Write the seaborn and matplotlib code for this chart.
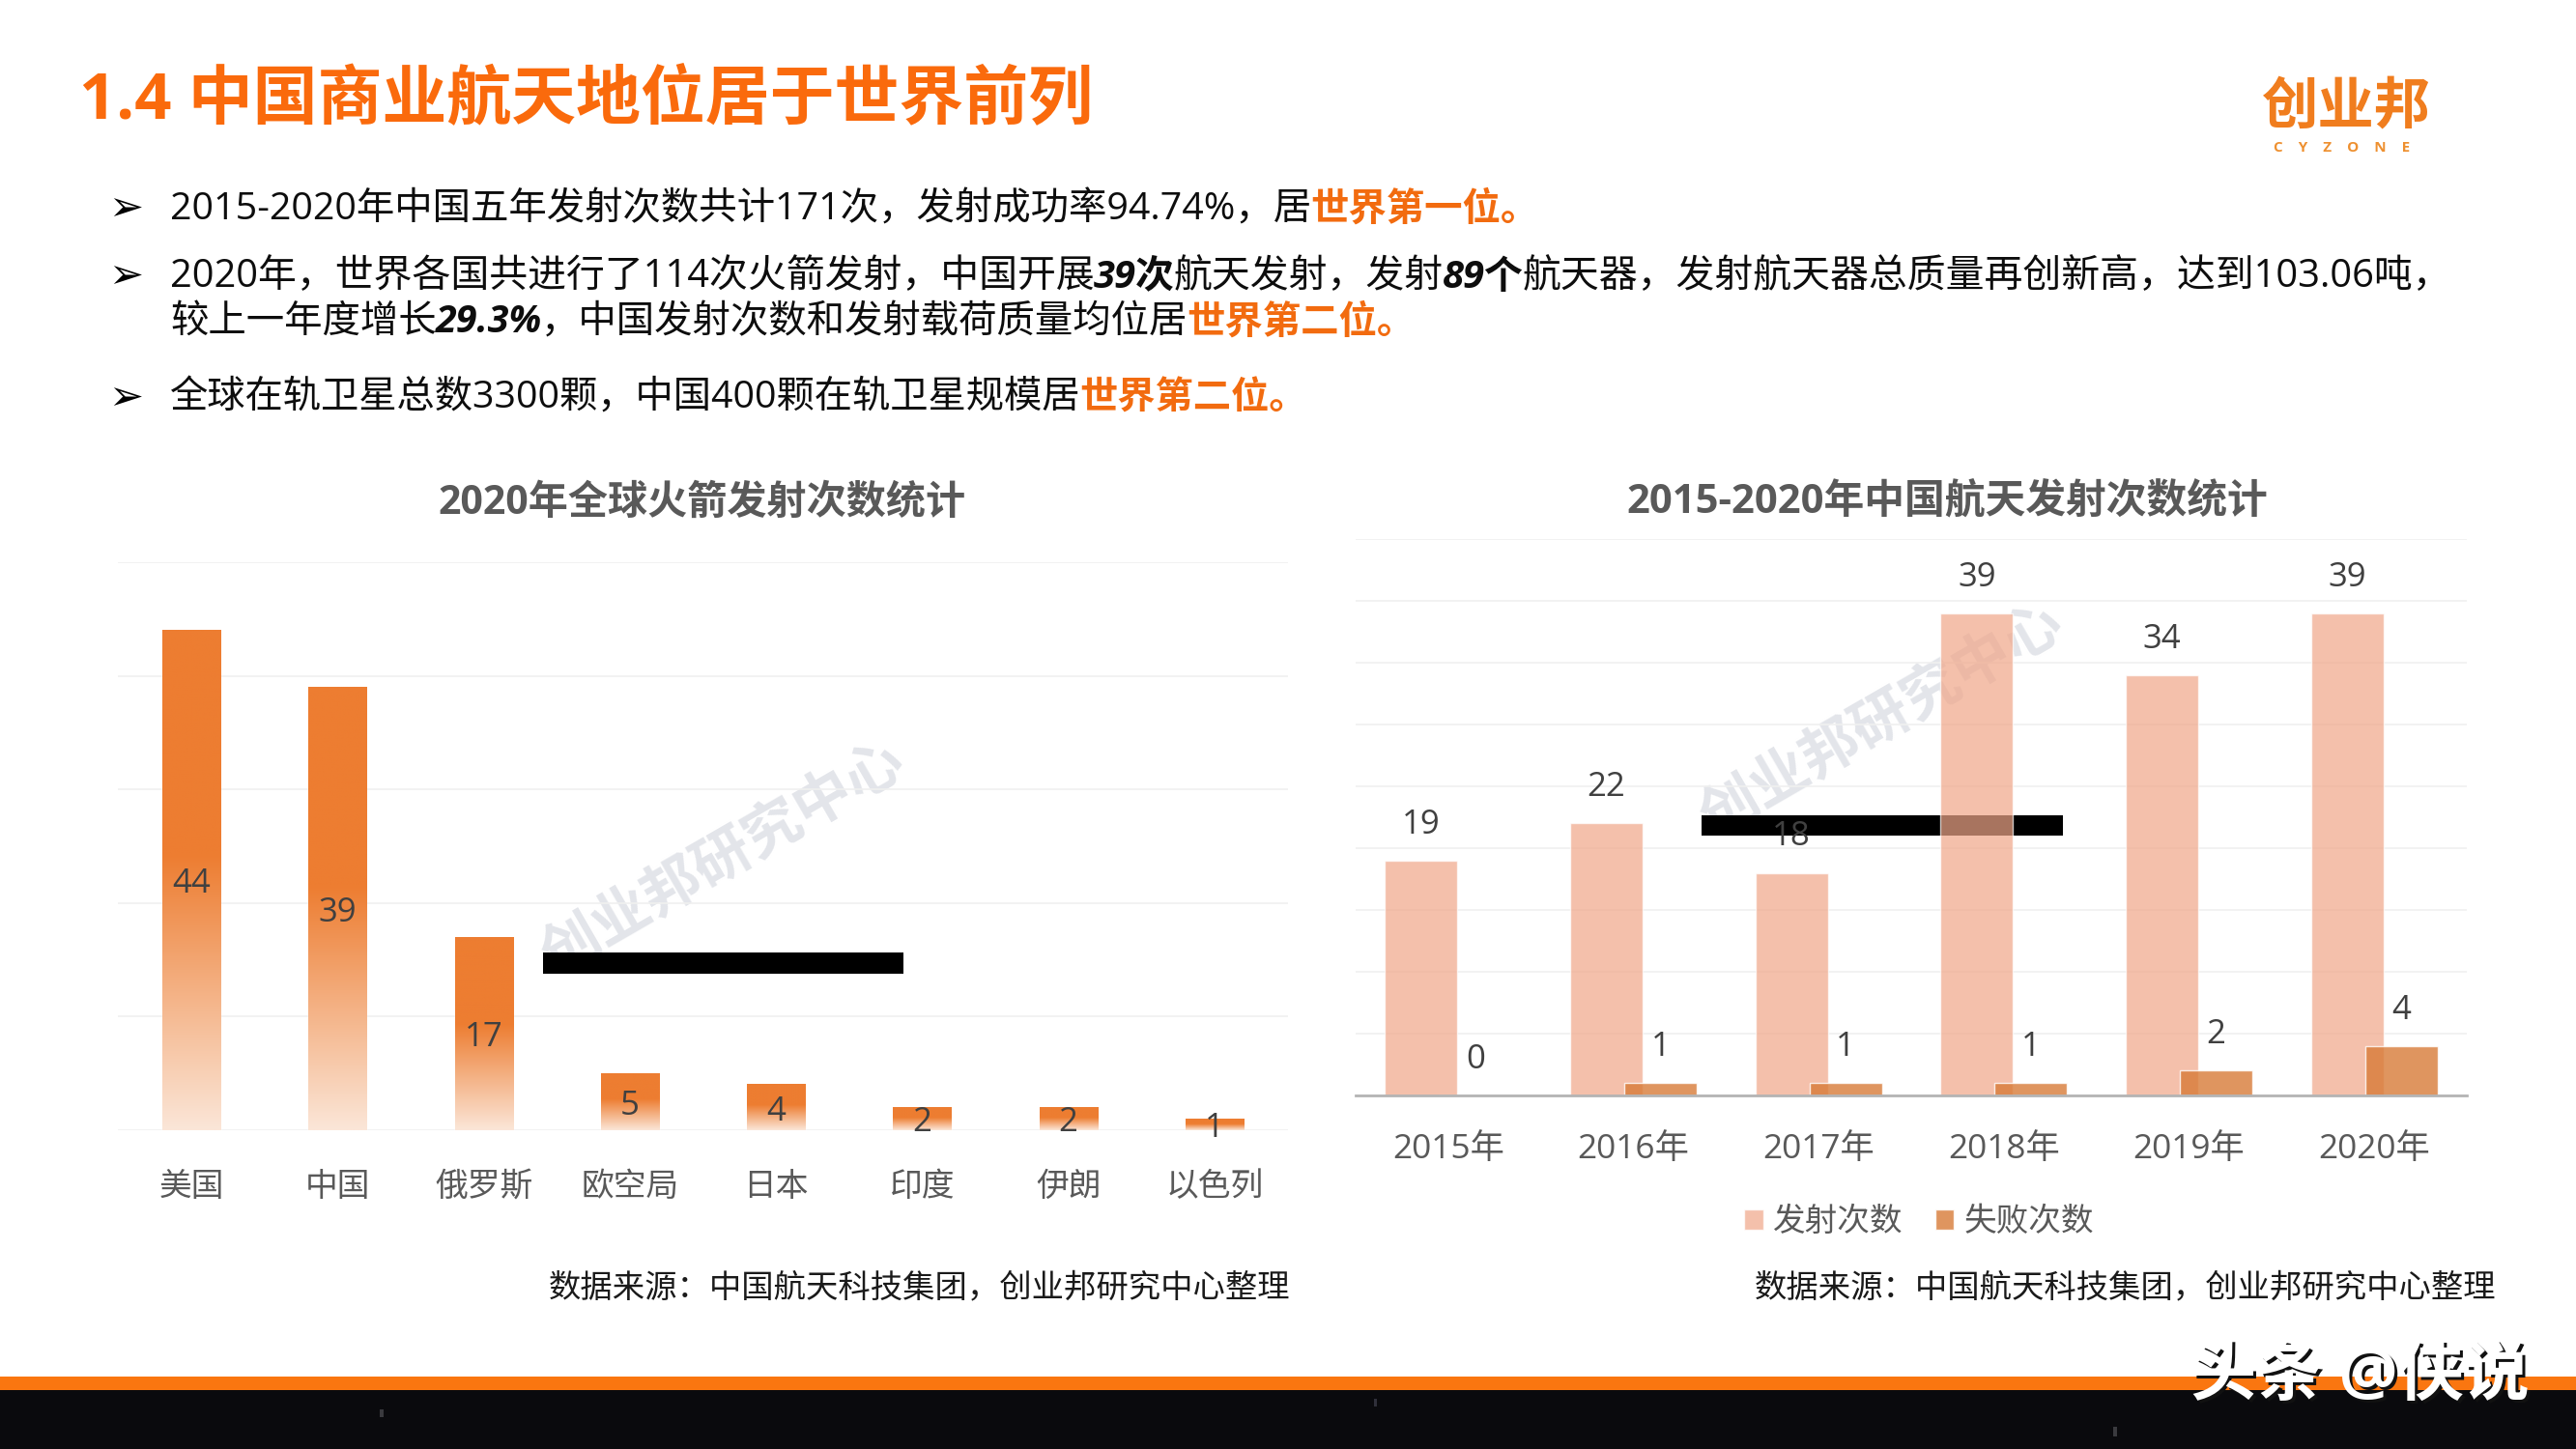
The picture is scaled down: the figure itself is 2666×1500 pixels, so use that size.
import numpy as np
import pandas as pd
import matplotlib
matplotlib.use("Agg")
import matplotlib.pyplot as plt
import seaborn as sns
from matplotlib.patches import Rectangle

# ---- data ----
countries = ["美国", "中国", "俄罗斯", "欧空局", "日本", "印度", "伊朗", "以色列"]
country_launches = [44, 39, 17, 5, 4, 2, 2, 1]
years = ["2015年", "2016年", "2017年", "2018年", "2019年", "2020年"]
launches = [19, 22, 18, 39, 34, 39]
failures = [0, 1, 1, 1, 2, 4]
series_names = ["发射次数", "失败次数"]

title = "1.4 中国商业航天地位居于世界前列"
left_title = "2020年全球火箭发射次数统计"
right_title = "2015-2020年中国航天发射次数统计"
source = "数据来源：中国航天科技集团，创业邦研究中心整理"
watermark = "创业邦研究中心"

BLK, ORG, ITA = "n", "o", "i"
bullets = [
    (217, True, 28.4, [(BLK, "2015-2020年中国五年发射次数共计171次，发射成功率94.74%，居"), (ORG, "世界第一位。")]),
    (287, True, 28.7, [(BLK, "2020年，世界各国共进行了114次火箭发射，中国开展"), (ITA, "39次"), (BLK, "航天发射，发射"),
                       (ITA, "89个"), (BLK, "航天器，发射航天器总质量再创新高，达到103.06吨，")]),
    (334, False, 28.4, [(BLK, "较上一年度增长"), (ITA, "29.3%"), (BLK, "，中国发射次数和发射载荷质量均位居"), (ORG, "世界第二位。")]),
    (413, True, 28.3, [(BLK, "全球在轨卫星总数3300颗，中国400颗在轨卫星规模居"), (ORG, "世界第二位。")]),
]

# ---- style ----
sns.set_theme(style="white")
FONT = ["Open Sans", "Noto Sans CJK SC", "DejaVu Sans"]
plt.rcParams["font.family"] = FONT

W, H = 2666, 1500
fig = plt.figure(figsize=(W / 100, H / 100), dpi=100, facecolor="white")


def fx(x):
    return x / W


def fy(y):
    return 1 - y / H


def ptext(x, y, s, **kw):
    kw.setdefault("va", "center")
    kw.setdefault("ha", "left")
    return fig.text(fx(x), fy(y), s, **kw)


def axes_px(x0, x1, y0, y1):
    ax = fig.add_axes([fx(x0), fy(y1), (x1 - x0) / W, (y1 - y0) / H])
    ax.patch.set_alpha(0)
    return ax


def frect(x0, x1, y0, y1, color, z):
    fig.add_artist(Rectangle((fx(x0), fy(y1)), (x1 - x0) / W, (y1 - y0) / H,
                             transform=fig.transFigure, facecolor=color,
                             edgecolor="none", zorder=z))


# ---- header ----
ptext(82, 105, title, fontsize=48.2, fontweight="bold", color="#FA6A0C", zorder=5)
ptext(2429, 113, "创业邦", fontsize=42, fontweight="bold", color="#F07D1E", ha="center", zorder=5)
ptext(2424, 153, "C    Y    Z    O    N    E", fontsize=11, fontweight="bold", color="#EE9030", ha="center", zorder=5)

renderer = fig.canvas.get_renderer()
styles = {
    BLK: dict(color="#0D0D0D"),
    ORG: dict(color="#F26B0F", fontweight="bold"),
    ITA: dict(color="#0D0D0D", fontweight="bold", fontstyle="italic"),
}
for y, has_marker, size, runs in bullets:
    if has_marker:
        ptext(112, y - 1, "➢", fontsize=31, color="black", family=["DejaVu Sans"], zorder=5)
    x = 176
    for kind, s in runs:
        t = ptext(x, y, s, fontsize=size, zorder=5, **styles[kind])
        x += t.get_window_extent(renderer).width - 1

# ---- background decoration under the charts ----
ptext(750, 891, watermark, fontsize=43.5, fontweight="bold", color="#E3E5EA",
      rotation=30, ha="center", rotation_mode="anchor", zorder=-2)
ptext(1949, 748, watermark, fontsize=43.5, fontweight="bold", color="#E3E5EA",
      rotation=30, ha="center", rotation_mode="anchor", zorder=-2)
frect(562, 935, 986, 1008, "black", -1)
frect(1761, 2135, 844, 865, "black", -1)

# ---- left chart ----
ax1 = axes_px(122.5, 1332.5, 582, 1170)
df1 = pd.DataFrame({"country": countries, "count": country_launches})
sns.barplot(data=df1, x="country", y="count", ax=ax1, color="#ED7D31", saturation=1, width=0.397)
top_rgb = np.array(matplotlib.colors.to_rgb("#ED7D31"))
bot_rgb = np.array(matplotlib.colors.to_rgb("#FBE6D8"))
grad_pos = np.linspace(0, 1, 256)
grad_mix = np.clip((grad_pos - 0.45) / 0.55, 0, 1)[:, None]
grad_img = (top_rgb * (1 - grad_mix) + bot_rgb * grad_mix)[:, None, :]
for p in ax1.containers[0]:
    ax1.imshow(grad_img, aspect="auto", zorder=2.5,
               extent=(p.get_x(), p.get_x() + p.get_width(), 0, p.get_height()))
ax1.set_xlim(-0.5, len(countries) - 0.5)
ax1.set_ylim(0, 50)
ax1.set_yticks(range(0, 51, 10))
for t in ax1.bar_label(ax1.containers[0], label_type="center", fontsize=25, color="#404040"):
    t.set_zorder(4)
    t.xyann = (0, -3)
ax1.grid(axis="y", color="#F0F0F0", linewidth=1.2)
ax1.set_axisbelow(True)
ax1.set(xlabel="", ylabel="")
ax1.tick_params(axis="y", left=False, labelleft=False)
ax1.tick_params(axis="x", bottom=False, labelsize=24.3, labelcolor="#595959", pad=24)
sns.despine(ax=ax1, left=True, top=True, right=True, bottom=True)

# ---- right chart ----
ax2 = axes_px(1403, 2553, 558, 1134)
df2 = pd.DataFrame({
    "year": years * 2,
    "count": launches + failures,
    "series": [series_names[0]] * len(years) + [series_names[1]] * len(years),
})
sns.barplot(data=df2, x="year", y="count", hue="series", ax=ax2, legend=False, saturation=1,
            width=0.78, gap=0, palette=["#F0A688", "#D87B37"])
shift = 0.195 - 0.146
for cont, sign, alpha in zip(ax2.containers, (1, -1), (0.7, 0.8)):
    for p in cont:
        p.set_x(p.get_x() + sign * shift)
        p.set_alpha(alpha)
    ax2.bar_label(cont, padding=14.5, fontsize=25, color="#404040")
ax2.set_ylim(0, 45)
ax2.set_yticks(range(0, 46, 5))
ax2.grid(axis="y", color="#F0F0F0", linewidth=1.2)
ax2.set_axisbelow(True)
ax2.set(xlabel="", ylabel="")
ax2.tick_params(axis="y", left=False, labelleft=False)
ax2.tick_params(axis="x", bottom=False, labelsize=25.4, labelcolor="#595959", pad=22)
sns.despine(ax=ax2, left=True, top=True, right=True)
ax2.spines["bottom"].set_color("#B4B4B4")
ax2.spines["bottom"].set_linewidth(2)
fig.legend(handles=[c[0] for c in ax2.containers], labels=series_names, ncol=2, frameon=False,
           loc="center", bbox_to_anchor=(fx(1986), fy(1265)), fontsize=24.2, labelcolor="#595959",
           handlelength=0.58, handleheight=0.58, handletextpad=0.3, columnspacing=1.0)

# ---- chart titles and sources ----
ptext(727, 521, left_title, fontsize=29.6, fontweight="bold", color="#595959", ha="center", zorder=5)
ptext(2015, 521, right_title, fontsize=30.1, fontweight="bold", color="#595959", ha="center", zorder=5)
ptext(1335, 1334, source, fontsize=24, color="#1A1A1A", ha="right", zorder=5)
ptext(2583, 1334, source, fontsize=24, color="#1A1A1A", ha="right", zorder=5)

# ---- footer ----
frect(0, W, 1425, 1439, "#FA7610", 1)
frect(0, W, 1439, H, "#0A0A0D", 1)
frect(393, 397, 1459, 1467, "#3A3A3E", 2)
frect(1422, 1425, 1448, 1456, "#30303A", 2)
frect(2187, 2191, 1477, 1487, "#3A3A3E", 2)
ptext(2445, 1429, "头条 @侠说", fontsize=49, fontweight="bold", color="#111111", ha="center", zorder=5)
ptext(2442, 1426, "头条 @侠说", fontsize=49, fontweight="bold", color="white", ha="center", zorder=6)

fig.savefig("out.png", dpi=100)
